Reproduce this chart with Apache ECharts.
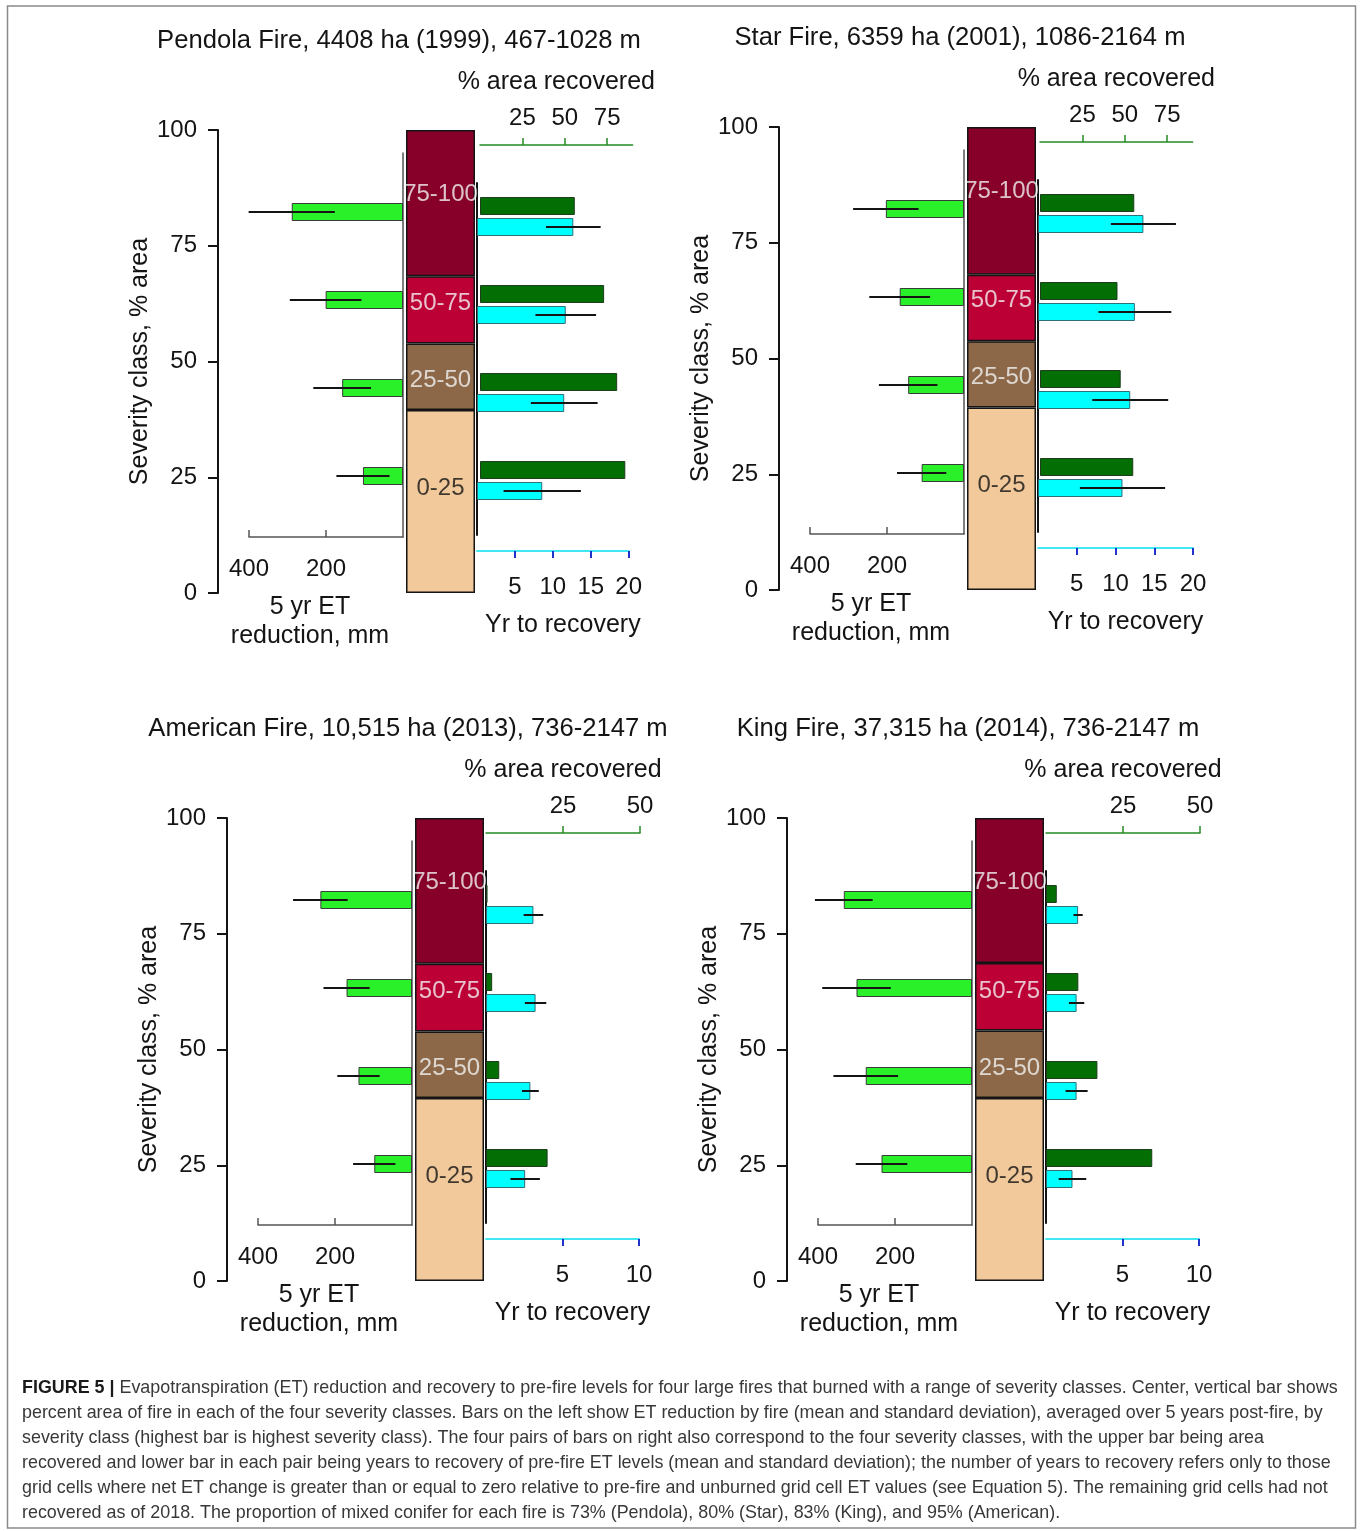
<!DOCTYPE html>
<html>
<head>
<meta charset="utf-8">
<script src="https://cdn.jsdelivr.net/npm/echarts@6/dist/echarts.min.js"></script>
<style>
html, body { margin: 0; background: #fff; }
#main { width: 1362px; height: 1531px; }
</style>
</head>
<body>
<div id="main"></div>
<script>
// severity classes, bottom to top
var classes = ['0-25', '25-50', '50-75', '75-100'];
var classLabelY = [22.5, 46, 62.6, 86.2];
var etTicks = [200, 400];
var recTicksWide = [25, 50, 75];
var yrsTicksWide = [5, 10, 15, 20];
var recTicksNarrow = [25, 50];
var yrsTicksNarrow = [5, 10];

// Pendola
var areaPendola = [39.5, 14.4, 14.5, 31.6];
var etPendola = [104, 158, 201, 289];
var etSdPendola = [69, 75, 93, 112];
var recPendola = [85.7, 80.9, 73.2, 55.9];
var yrsPendola = [8.6, 11.5, 11.7, 12.7];
var yrsSdPendola = [5.1, 4.4, 4.0, 3.6];

// Star
var areaStar = [39.4, 14.3, 14.4, 31.9];
var etStar = [110, 145, 167, 203];
var etSdStar = [64, 76, 79, 85];
var recStar = [55, 47.6, 45.7, 55.6];
var yrsStar = [10.9, 11.9, 12.5, 13.6];
var yrsSdStar = [5.5, 4.9, 4.7, 4.2];

// American
var areaAmerican = [39.5, 14.4, 14.6, 31.5];
var etAmerican = [98, 139, 170, 238];
var etSdAmerican = [55, 55, 60, 71];
var recAmerican = [20, 4.3, 2.0, 0.5];
var yrsAmerican = [2.56, 2.9, 3.24, 3.1];
var yrsSdAmerican = [0.96, 0.55, 0.7, 0.64];

// King
var areaKing = [39.5, 14.6, 14.6, 31.3];
var etKing = [235, 276, 300, 333];
var etSdKing = [67, 84, 89, 75];
var recKing = [34.5, 16.7, 10.5, 3.5];
var yrsKing = [1.73, 2.0, 2.0, 2.1];
var yrsSdKing = [0.9, 0.72, 0.5, 0.3];

var captionLines = [
  '{b|FIGURE 5 |} Evapotranspiration (ET) reduction and recovery to pre-fire levels for four large fires that burned with a range of severity classes. Center, vertical bar shows',
  'percent area of fire in each of the four severity classes. Bars on the left show ET reduction by fire (mean and standard deviation), averaged over 5 years post-fire, by',
  'severity class (highest bar is highest severity class). The four pairs of bars on right also correspond to the four severity classes, with the upper bar being area',
  'recovered and lower bar in each pair being years to recovery of pre-fire ET levels (mean and standard deviation); the number of years to recovery refers only to those',
  'grid cells where net ET change is greater than or equal to zero relative to pre-fire and unburned grid cell ET values (see Equation 5). The remaining grid cells had not',
  'recovered as of 2018. The proportion of mixed conifer for each fire is 73% (Pendola), 80% (Star), 83% (King), and 95% (American).'
];

var FONT = "'Liberation Sans', Arial, sans-serif";
var INK = '#141414';
var classColors = ['#F1C99B', '#8C6849', '#BC0036', '#86002A'];

var grids = [], xAxes = [], yAxes = [], series = [], graphics = [];

function errSeries(gi, mean, sd) {
  return {
    type: 'custom', xAxisIndex: gi, yAxisIndex: gi, z: 4, silent: true,
    data: mean.map(function (m, i) { return [m - sd[i], m + sd[i], i]; }),
    encode: { x: [0, 1], y: 2 },
    renderItem: function (params, api) {
      var a = api.coord([api.value(0), api.value(2)]);
      var b = api.coord([api.value(1), api.value(2)]);
      return { type: 'line', shape: { x1: a[0], y1: a[1], x2: b[0], y2: b[1] },
        style: { stroke: INK, lineWidth: 2 } };
    }
  };
}

function txt(size) { return { fontSize: size, color: INK, fontFamily: FONT }; }

function addPanel(f) {
  var ox = f.ox, oy = f.oy, gi;
  graphics.push({ type: 'text', x: ox + 181, y: oy - 89,
    style: { text: f.title, font: '25.6px ' + FONT, fill: INK, textAlign: 'center', textVerticalAlign: 'middle' } });

  // centre bar: % area of fire per severity class
  gi = grids.length;
  grids.push({ left: ox + 188, top: oy, width: 69, height: 463, outerBoundsMode: 'none' });
  xAxes.push({ gridIndex: gi, type: 'category', data: ['area'], show: false });
  yAxes.push({ gridIndex: gi, type: 'value', min: 0, max: 100, interval: 25, offset: 188,
    name: 'Severity class, % area', nameLocation: 'middle', nameGap: 55, nameTextStyle: txt(25),
    axisLine: { show: true, lineStyle: { color: INK, width: 2 } },
    axisTick: { show: true, length: 10, lineStyle: { color: INK, width: 2 } },
    axisLabel: Object.assign({ margin: 21 }, txt(24)), splitLine: { show: false } });
  classes.forEach(function (c, i) {
    series.push({ type: 'bar', name: c, xAxisIndex: gi, yAxisIndex: gi, stack: 'area' + gi, barWidth: '100%',
      data: [f.area[i]], itemStyle: { color: classColors[i], borderColor: INK, borderWidth: 1.5 } });
  });
  series.push({ type: 'scatter', xAxisIndex: gi, yAxisIndex: gi, symbolSize: 0, z: 5, silent: true,
    data: classes.map(function (c, i) {
      return { name: c, value: [0, classLabelY[i]], label: { color: i === 0 ? INK : '#f2f2f2' } };
    }),
    label: { show: true, position: 'inside', formatter: '{b}', fontSize: 24, fontFamily: FONT } });

  // ET reduction axis frame
  gi = grids.length;
  grids.push({ left: ox + 31, top: oy + 23, width: 154, height: 384, outerBoundsMode: 'none' });
  xAxes.push({ gridIndex: gi, type: 'value', min: 0, max: 400, inverse: true, position: 'bottom',
    name: '5 yr ET\nreduction, mm', nameLocation: 'middle', nameGap: 56,
    nameTextStyle: Object.assign({ lineHeight: 29, padding: [0, 32, 0, 0] }, txt(25)),
    axisLine: { show: true, onZero: false, lineStyle: { color: '#555', width: 1.5 } },
    axisTick: { show: true, inside: true, length: 7, customValues: etTicks, lineStyle: { color: '#555', width: 1.5 } },
    axisLabel: Object.assign({ customValues: etTicks, margin: 20 }, txt(24)), splitLine: { show: false } });
  yAxes.push({ gridIndex: gi, type: 'value', min: 0, max: 1, position: 'right',
    axisLine: { show: true, onZero: false, lineStyle: { color: '#555', width: 1.5 } },
    axisTick: { show: false }, axisLabel: { show: false }, splitLine: { show: false } });

  // ET reduction bars
  gi = grids.length;
  grids.push({ left: ox + 31, top: oy + 38, width: 154, height: 352, outerBoundsMode: 'none' });
  xAxes.push({ gridIndex: gi, type: 'value', min: 0, max: 400, inverse: true, show: false });
  yAxes.push({ gridIndex: gi, type: 'category', data: classes, show: false });
  series.push({ type: 'bar', xAxisIndex: gi, yAxisIndex: gi, barWidth: 18, data: f.et,
    itemStyle: { color: '#2AF02A', borderColor: '#3a3a3a', borderWidth: 1 } });
  series.push(errSeries(gi, f.et, f.etSd));

  // % area recovered
  gi = grids.length;
  grids.push({ left: ox + f.recLeft, top: oy + 32, width: f.recW, height: 352, outerBoundsMode: 'none' });
  xAxes.push({ gridIndex: gi, type: 'value', min: 0, max: f.recMax, position: 'top', offset: 17,
    name: '% area recovered', nameLocation: 'middle', nameGap: 50, nameTextStyle: txt(25),
    axisLine: { show: true, onZero: false, lineStyle: { color: '#238B23', width: 1.5 } },
    axisTick: { show: true, length: 7, customValues: f.recTicks, lineStyle: { color: '#238B23', width: 1.5 } },
    axisLabel: Object.assign({ customValues: f.recTicks, margin: 15 }, txt(24)), splitLine: { show: false } });
  yAxes.push({ gridIndex: gi, type: 'category', data: classes, show: false });
  series.push({ type: 'bar', xAxisIndex: gi, yAxisIndex: gi, barWidth: 18, data: f.rec,
    itemStyle: { color: '#036E03', borderColor: '#1d3d1d', borderWidth: 1 } });

  // years to recovery
  gi = grids.length;
  grids.push({ left: ox + 259, top: oy + 53, width: f.yrsW, height: 352, outerBoundsMode: 'none' });
  xAxes.push({ gridIndex: gi, type: 'value', min: 0, max: f.yrsMax, position: 'bottom', offset: 16,
    name: 'Yr to recovery', nameLocation: 'middle', nameGap: 62,
    nameTextStyle: Object.assign({ padding: [0, 0, 0, 20] }, txt(25)),
    axisLine: { show: true, onZero: false, lineStyle: { color: '#3FE8F2', width: 2 } },
    axisTick: { show: true, length: 7, customValues: f.yrsTicks, lineStyle: { color: '#2233CC', width: 2 } },
    axisLabel: Object.assign({ customValues: f.yrsTicks, margin: 24 }, txt(24)), splitLine: { show: false } });
  yAxes.push({ gridIndex: gi, type: 'category', data: classes,
    axisLine: { show: true, lineStyle: { color: INK, width: 2 } }, axisTick: { show: false }, axisLabel: { show: false } });
  series.push({ type: 'bar', xAxisIndex: gi, yAxisIndex: gi, barWidth: 18, data: f.yrs,
    itemStyle: { color: '#00FFFF', borderColor: '#2f6f78', borderWidth: 1 } });
  series.push(errSeries(gi, f.yrs, f.yrsSd));
}

addPanel({ title: 'Pendola Fire, 4408 ha (1999), 467-1028 m', ox: 218, oy: 130,
  area: areaPendola, et: etPendola, etSd: etSdPendola, rec: recPendola, yrs: yrsPendola, yrsSd: yrsSdPendola,
  recLeft: 262, recW: 152.6, recMax: 90, recTicks: recTicksWide, yrsW: 151.7, yrsMax: 20, yrsTicks: yrsTicksWide });
addPanel({ title: 'Star Fire, 6359 ha (2001), 1086-2164 m', ox: 779, oy: 127,
  area: areaStar, et: etStar, etSd: etSdStar, rec: recStar, yrs: yrsStar, yrsSd: yrsSdStar,
  recLeft: 261, recW: 152.6, recMax: 90, recTicks: recTicksWide, yrsW: 155, yrsMax: 20, yrsTicks: yrsTicksWide });
addPanel({ title: 'American Fire, 10,515 ha (2013), 736-2147 m', ox: 227, oy: 818,
  area: areaAmerican, et: etAmerican, etSd: etSdAmerican, rec: recAmerican, yrs: yrsAmerican, yrsSd: yrsSdAmerican,
  recLeft: 259, recW: 154, recMax: 50, recTicks: recTicksNarrow, yrsW: 153, yrsMax: 10, yrsTicks: yrsTicksNarrow });
addPanel({ title: 'King Fire, 37,315 ha (2014), 736-2147 m', ox: 787, oy: 818,
  area: areaKing, et: etKing, etSd: etSdKing, rec: recKing, yrs: yrsKing, yrsSd: yrsSdKing,
  recLeft: 259, recW: 154, recMax: 50, recTicks: recTicksNarrow, yrsW: 153, yrsMax: 10, yrsTicks: yrsTicksNarrow });

// figure frame and caption
graphics.push({ type: 'rect', shape: { x: 7.5, y: 6, width: 1348, height: 1522 },
  style: { fill: 'none', stroke: '#8a8a8a', lineWidth: 1.5 } });
captionLines.forEach(function (t, i) {
  graphics.push({ type: 'text', x: 22, y: 1388 + 25 * i,
    style: { text: t, font: '17.9px ' + FONT, fill: '#383838', textVerticalAlign: 'middle',
      rich: { b: { fontWeight: 'bold', fontSize: 17.9, fontFamily: FONT, fill: '#1a1a1a' } } } });
});

var myChart = echarts.init(document.getElementById('main'));
myChart.setOption({
  backgroundColor: '#fff',
  animation: false,
  grid: grids,
  xAxis: xAxes,
  yAxis: yAxes,
  series: series,
  graphic: graphics
});
</script>
</body>
</html>
